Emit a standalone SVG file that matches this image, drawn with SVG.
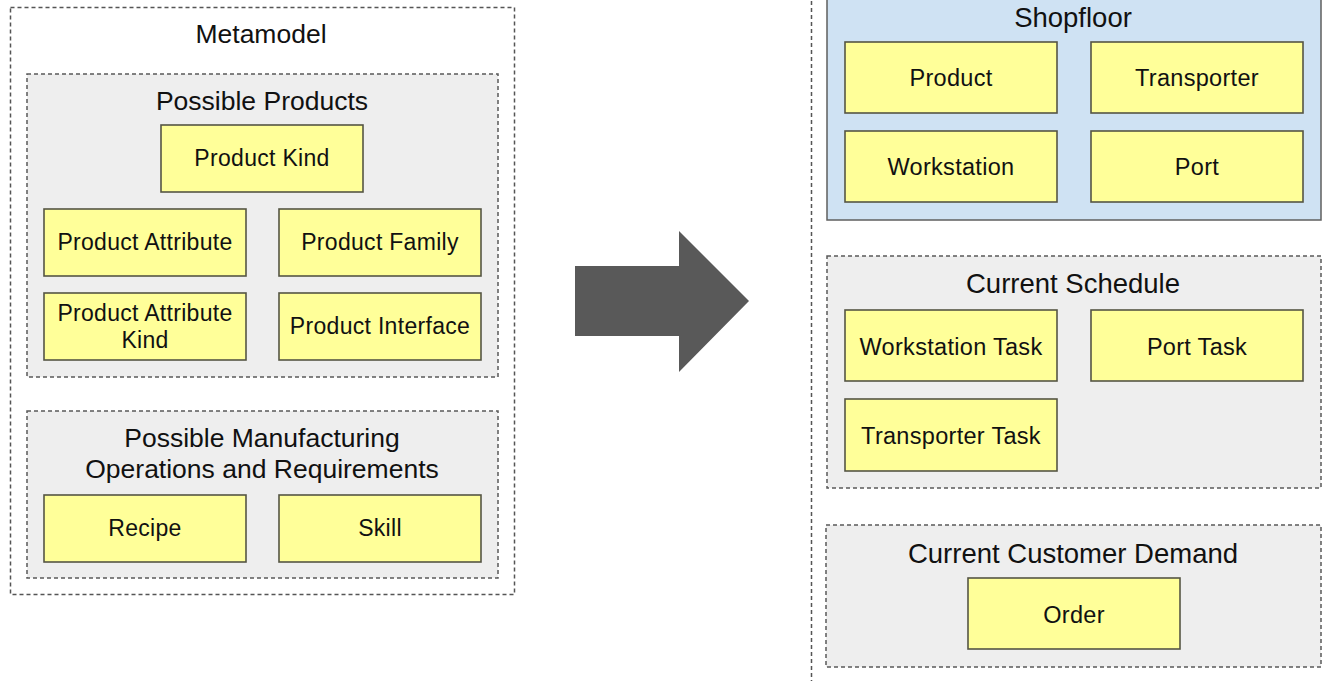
<svg xmlns="http://www.w3.org/2000/svg" width="1332" height="681" viewBox="0 0 1332 681" font-family="'Liberation Sans', Arimo, Arial, sans-serif">
<style>
.outer{fill:#ffffff;stroke:#555555;stroke-width:1.5;stroke-dasharray:4 3}
.group{fill:#eeeeee;stroke:#5a5a5a;stroke-width:1.5;stroke-dasharray:4 3}
.blue{fill:#cfe2f3;stroke:#5f5f5f;stroke-width:1.5}
.node{fill:#ffff99;stroke:#555544;stroke-width:1.6}
text{fill:#111111;text-anchor:middle}
.h{font-size:26.5px}
.hr{font-size:27.5px}
.n{font-size:23px;letter-spacing:0.3px}
.nr{font-size:23.5px;letter-spacing:0.3px}
.arrow{fill:#595959}
</style>
<rect width="1332" height="681" fill="#ffffff"/>

<g id="metamodel">
<rect class="outer" x="10.5" y="7.5" width="504" height="587"/>
<text class="h" x="261" y="43" font-family="Liberation Sans">Metamodel</text>
</g>

<g id="possible-products">
<rect class="group" x="27" y="74" width="471" height="303"/>
<text class="h" x="262" y="110" font-family="Liberation Sans">Possible Products</text>
</g>
<g id="product-kind"><rect class="node" x="161" y="125" width="202" height="67"/><text class="n" x="262" y="166" font-family="Liberation Sans">Product Kind</text></g>
<g id="product-attribute"><rect class="node" x="44" y="209" width="202" height="67"/><text class="n" x="145" y="250" font-family="Liberation Sans">Product Attribute</text></g>
<g id="product-family"><rect class="node" x="279" y="209" width="202" height="67"/><text class="n" x="380" y="250" font-family="Liberation Sans">Product Family</text></g>
<g id="product-attribute-kind"><rect class="node" x="44" y="293" width="202" height="67"/><text class="n" x="145" y="321" font-family="Liberation Sans">Product Attribute</text><text class="n" x="145" y="348" font-family="Liberation Sans">Kind</text></g>
<g id="product-interface"><rect class="node" x="279" y="293" width="202" height="67"/><text class="n" x="380" y="334" font-family="Liberation Sans">Product Interface</text></g>

<g id="possible-manufacturing">
<rect class="group" x="27" y="411" width="471" height="167"/>
<text class="h" x="262" y="447" font-family="Liberation Sans">Possible Manufacturing</text>
<text class="h" x="262" y="478" font-family="Liberation Sans">Operations and Requirements</text>
</g>
<g id="recipe"><rect class="node" x="44" y="495" width="202" height="67"/><text class="n" x="145" y="536" font-family="Liberation Sans">Recipe</text></g>
<g id="skill"><rect class="node" x="279" y="495" width="202" height="67"/><text class="n" x="380" y="536" font-family="Liberation Sans">Skill</text></g>

<g id="connectors">
<polygon class="arrow" points="575,266 679,266 679,231 749,301 679,372 679,336 575,336"/>
</g>

<g id="runtime-model">
<rect class="outer" x="811.5" y="-20" width="560" height="730"/>
</g>

<g id="shopfloor">
<rect class="blue" x="827" y="-10" width="494" height="230"/>
<text class="hr" x="1073" y="27" font-family="Liberation Sans">Shopfloor</text>
</g>
<g id="product"><rect class="node" x="845" y="42" width="212" height="71"/><text class="nr" x="951" y="86" font-family="Liberation Sans">Product</text></g>
<g id="transporter"><rect class="node" x="1091" y="42" width="212" height="71"/><text class="nr" x="1197" y="86" font-family="Liberation Sans">Transporter</text></g>
<g id="workstation"><rect class="node" x="845" y="131" width="212" height="71"/><text class="nr" x="951" y="175" font-family="Liberation Sans">Workstation</text></g>
<g id="port"><rect class="node" x="1091" y="131" width="212" height="71"/><text class="nr" x="1197" y="175" font-family="Liberation Sans">Port</text></g>

<g id="current-schedule">
<rect class="group" x="827" y="256" width="494" height="232"/>
<text class="hr" x="1073" y="293" font-family="Liberation Sans">Current Schedule</text>
</g>
<g id="workstation-task"><rect class="node" x="845" y="310" width="212" height="71"/><text class="nr" x="951" y="355" font-family="Liberation Sans">Workstation Task</text></g>
<g id="port-task"><rect class="node" x="1091" y="310" width="212" height="71"/><text class="nr" x="1197" y="355" font-family="Liberation Sans">Port Task</text></g>
<g id="transporter-task"><rect class="node" x="845" y="399" width="212" height="72"/><text class="nr" x="951" y="444" font-family="Liberation Sans">Transporter Task</text></g>

<g id="current-customer-demand">
<rect class="group" x="826" y="525" width="495" height="142"/>
<text class="hr" x="1073" y="563" font-family="Liberation Sans">Current Customer Demand</text>
</g>
<g id="order"><rect class="node" x="968" y="578" width="212" height="71"/><text class="nr" x="1074" y="623" font-family="Liberation Sans">Order</text></g>
</svg>
